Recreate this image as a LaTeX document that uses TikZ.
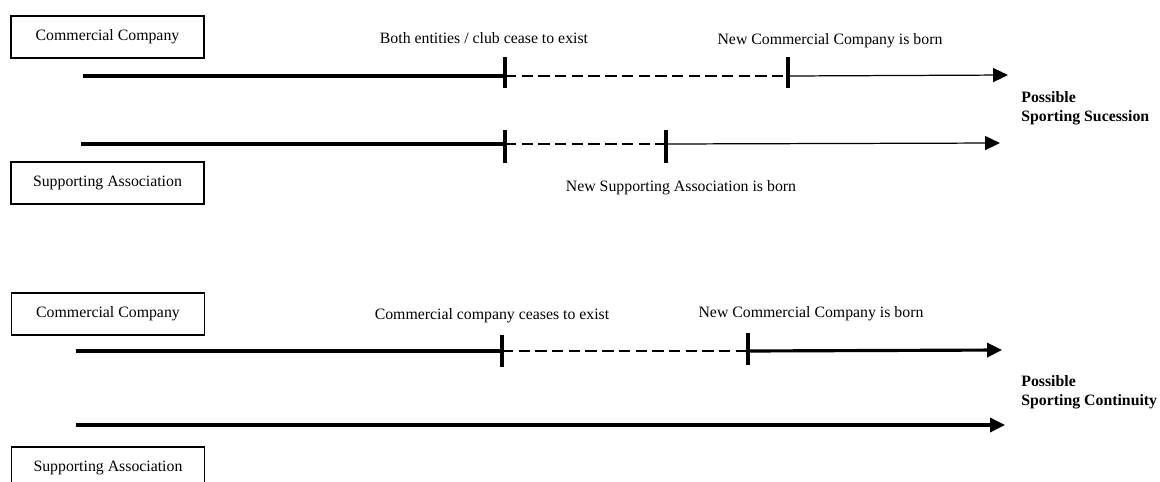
\documentclass[tikz,border=0pt]{standalone}
\usepackage{fontspec}
\setmainfont{Liberation Serif}
\usepackage{tikz}
\usetikzlibrary{positioning}
\usetikzlibrary{arrows.meta}
\usetikzlibrary{calc}

\begin{document}
\begin{tikzpicture}[x=0.02cm, y=-0.02cm,
	font=\fontsize{9}{11}\selectfont,
	entity/.style = {draw, line width=0.9pt, minimum width=3.86cm, minimum height=0.84cm, inner sep=0pt},
	event/.style = {inner sep=1pt},
	outcome/.style = {anchor=west, align=left, font=\fontsize{9}{10.8}\selectfont\bfseries, inner sep=0pt},
	life/.style = {line width=1.8pt},
	gone/.style = {line width=0.6pt, dash pattern=on 6.5pt off 3pt},
	reborn/.style = {line width=0.7pt, -{Triangle[length=8.5pt,width=8pt]}},
	rebornthick/.style = {line width=1.8pt, -{Triangle[length=8.5pt,width=8pt]}},
	tickmark/.style = {line width=1.8pt}]
\useasboundingbox (0,0) rectangle (1160,481);
\clip (0,0) rectangle (1160,481);

% first case
\node[entity] (comp0) at (107.5,37) {Commercial Company};
\node[entity] (supp0) at (107.5,183) {Supporting Association};

\coordinate (c0start) at (83,76);
\coordinate (c0end) at (505,76);
\coordinate (c0new) at (788,76);
\coordinate (c0tip) at (1008,75);

\coordinate (s0start) at (81,144);
\coordinate (s0end) at (505,144);
\coordinate (s0new) at (666,144);
\coordinate (s0tip) at (1000,143);

\node[event] (both) at (484,38) {Both entities / club cease to exist};
\node[event] (newcomp0) at (830,41) {New Commercial Company is born};
\node[event] (newsupp0) at (681,188) {New Supporting Association is born};
\node[outcome] (succ) at (1021,108.5) {Possible\\Sporting Sucession};

\draw[life] (c0start) -- (c0end);
\draw[gone] (c0end) -- (c0new);
\draw[reborn] (c0new) -- (c0tip);
\draw[life] (s0start) -- (s0end);
\draw[gone] (s0end) -- (s0new);
\draw[reborn] (s0new) -- (s0tip);

\draw[tickmark] ($(c0end)+(0,-19)$) -- ($(c0end)+(0,12)$);
\draw[tickmark] ($(c0new)+(0,-19)$) -- ($(c0new)+(0,12)$);
\draw[tickmark] ($(s0end)+(0,-14)$) -- ($(s0end)+(0,19)$);
\draw[tickmark] ($(s0new)+(0,-14)$) -- ($(s0new)+(0,19)$);

% second case
\node[entity] (comp1) at (108,314) {Commercial Company};
\node[entity] (supp1) at (108,468) {Supporting Association};

\coordinate (c1start) at (76,351);
\coordinate (c1end) at (502,351);
\coordinate (c1new) at (748,351);
\coordinate (c1tip) at (1002,350);

\coordinate (s1start) at (76,425);
\coordinate (s1tip) at (1005,425);

\node[event] (ceases) at (492,316) {Commercial company ceases to exist};
\node[event] (newcomp1) at (811,314) {New Commercial Company is born};
\node[outcome] (cont) at (1021,392.5) {Possible\\Sporting Continuity};

\draw[life] (c1start) -- (c1end);
\draw[gone] (c1end) -- (c1new);
\draw[rebornthick] (c1new) -- (c1tip);
\draw[rebornthick] (s1start) -- (s1tip);

\draw[tickmark] ($(c1end)+(0,-16)$) -- ($(c1end)+(0,16)$);
\draw[tickmark] ($(c1new)+(0,-18)$) -- ($(c1new)+(0,14)$);
\end{tikzpicture}
\end{document}
